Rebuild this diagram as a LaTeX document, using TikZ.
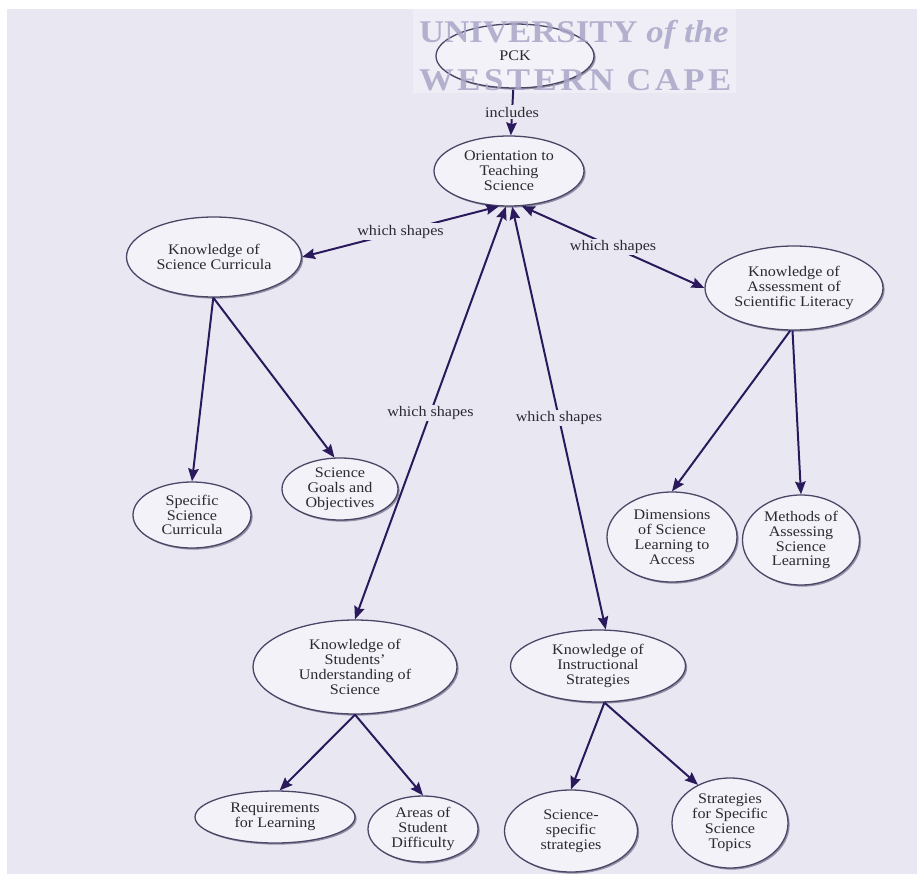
\documentclass[tikz,border=0pt]{standalone}
\usepackage{fontspec}
\setmainfont{Liberation Serif}[FakeStretch=1.1]
\usetikzlibrary{shapes.geometric,arrows.meta,shadows}
\definecolor{bgcol}{HTML}{E9E8F2}
\definecolor{ellfill}{HTML}{F3F2F8}
\definecolor{ellline}{HTML}{4A4666}
\definecolor{linkcol}{HTML}{2A1A5C}
\definecolor{markcol}{HTML}{A9A6C8}
\definecolor{txtcol}{HTML}{2A2A32}
\begin{document}
\begin{tikzpicture}[x=0.03cm,y=-0.03cm,
    concept/.style={ellipse,draw=ellline,line width=1.1pt,fill=ellfill,inner sep=0pt,
      align=center,text=txtcol,font=\fontsize{12.5}{12.7}\selectfont,
      drop shadow={shadow xshift=1.4pt,shadow yshift=-1.4pt,fill=ellline,opacity=0.55}},
    link/.style={draw=linkcol,line width=1.7pt,-{Stealth[length=11pt,width=9pt,inset=1.5pt]}},
    both/.style={link,{Stealth[length=11pt,width=9pt,inset=1.5pt]}-{Stealth[length=11pt,width=9pt,inset=1.5pt]}},
    lbl/.style={fill=bgcol,inner sep=1.5pt,text=txtcol,font=\fontsize{12.5}{12.7}\selectfont},
    watermark/.style={anchor=base west,inner sep=0pt,text=markcol,opacity=0.85}]
  \useasboundingbox (0,0) rectangle (917,874);
  \fill[white] (0,0) rectangle (917,874);
  \fill[bgcol] (7,9) rectangle (917,874);
  \fill[ellfill!60!bgcol] (413,9) rectangle (736,93);

  % concepts
  \node[concept,minimum width=4.74cm,minimum height=1.92cm] (pck) at (515,56) {PCK};
  \node[concept,minimum width=4.5cm,minimum height=2.1cm] (orient) at (509,171) {Orientation to\\Teaching\\Science};
  \node[concept,minimum width=5.25cm,minimum height=2.4cm] (curric) at (214,257) {Knowledge of\\Science Curricula};
  \node[concept,minimum width=5.34cm,minimum height=2.52cm] (assess) at (794,288) {Knowledge of\\Assessment of\\Scientific Literacy};
  \node[concept,minimum width=3.54cm,minimum height=1.98cm] (spec) at (192,515) {Specific\\Science\\Curricula};
  \node[concept,minimum width=3.48cm,minimum height=1.86cm] (goals) at (340,489) {Science\\Goals and\\Objectives};
  \node[concept,minimum width=3.9cm,minimum height=2.7cm] (dims) at (672,537) {Dimensions\\of Science\\Learning to\\Access};
  \node[concept,minimum width=3.51cm,minimum height=2.7cm] (meth) at (801,540) {Methods of\\Assessing\\Science\\Learning};
  \node[concept,minimum width=6.12cm,minimum height=2.82cm] (stud) at (355,667) {Knowledge of\\Students'\\Understanding of\\Science};
  \node[concept,minimum width=5.25cm,minimum height=2.16cm] (instr) at (598,666) {Knowledge of\\Instructional\\Strategies};
  \node[concept,minimum width=4.8cm,minimum height=1.56cm] (req) at (275,817) {Requirements\\for Learning};
  \node[concept,minimum width=3.3cm,minimum height=1.98cm] (areas) at (423,829) {Areas of\\Student\\Difficulty};
  \node[concept,minimum width=3.99cm,minimum height=2.46cm] (ssci) at (571,831) {Science-\\specific\\strategies};
  \node[concept,minimum width=3.48cm,minimum height=2.7cm] (sstr) at (730,823) {Strategies\\for Specific\\Science\\Topics};

  % links
  \draw[link] (pck) -- node[lbl]{includes} (orient);
  \draw[both] (orient.-106) -- node[lbl]{which shapes} (curric.east);
  \draw[both] (orient.-70) -- node[lbl]{which shapes} (assess.west);
  \draw[both] (orient.-95) -- node[lbl]{which shapes} (stud.north);
  \draw[both] (orient.-85) -- node[lbl]{which shapes} (instr.78);

  \draw[link] (curric.-91) -- (spec.north);
  \draw[link] (curric.-91) -- (goals.100);
  \draw[link] (assess.-95) -- (dims.north);
  \draw[link] (assess.-92) -- (meth.north);
  \draw[link] (stud.south) -- (req.80);
  \draw[link] (stud.south) -- (areas.north);
  \draw[link] (instr.-80) -- (ssci.north);
  \draw[link] (instr.-80) -- (sstr.130);

  % watermark
  \node[watermark,font=\fontsize{27}{27}\bfseries] (mark1) at (419,43) {UNIVERSITY \textit{of the}};
  \node[watermark,font=\fontsize{27}{27}\bfseries\addfontfeature{LetterSpace=11}] (mark2) at (419,91) {WESTERN CAPE};
\end{tikzpicture}
\end{document}
